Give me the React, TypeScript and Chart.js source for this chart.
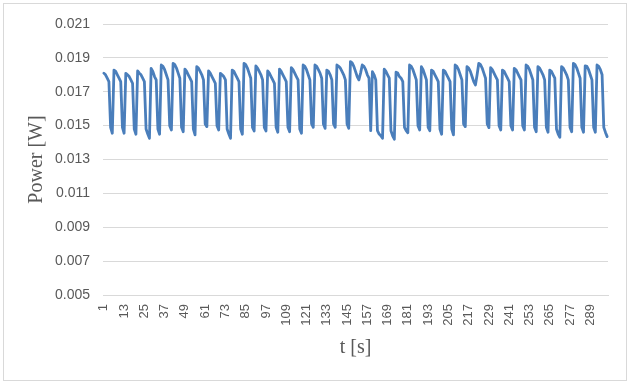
import React, { useEffect, useRef } from "react";
import { Chart, registerables } from "chart.js";

Chart.register(...registerables);

// Categories: t [s] = 1 … 299
const categories: string[] = Array.from({ length: 299 }, (_, i) => String(i + 1));

// Tick labels shown on the category axis
const xTickLabels = ["1", "13", "25", "37", "49", "61", "73", "85", "97", "109", "121", "133", "145", "157", "169", "181", "193", "205", "217", "229", "241", "253", "265", "277", "289"];

// Value axis
const yMin = 0.005;
const yMax = 0.021;
const yStep = 0.002;

// Power [W]
const power = [
  0.0181, 0.0180, 0.0178, 0.0176, 0.0149, 0.01455,
  0.01828, 0.0182, 0.0180, 0.0178, 0.0176, 0.0149, 0.01455,
  0.01809, 0.0180, 0.0179, 0.0177, 0.0175, 0.0148, 0.01449,
  0.01823, 0.0181, 0.0180, 0.0178, 0.0176, 0.0148, 0.0145, 0.01425,
  0.01838, 0.0182, 0.0179, 0.0177, 0.0148, 0.01449,
  0.01858, 0.0185, 0.0183, 0.0180, 0.0177, 0.0150, 0.01474,
  0.01868, 0.0186, 0.0184, 0.0181, 0.0178, 0.0149, 0.01464,
  0.01834, 0.0182, 0.0180, 0.0178, 0.0176, 0.0148, 0.01445,
  0.01848, 0.0184, 0.0182, 0.0180, 0.0177, 0.0151, 0.01494,
  0.01823, 0.0181, 0.0179, 0.0177, 0.0175, 0.0150, 0.01474,
  0.01809, 0.0180, 0.0179, 0.0177, 0.0148, 0.0145, 0.01425,
  0.01828, 0.0182, 0.0180, 0.0178, 0.0176, 0.0148, 0.01449,
  0.01868, 0.0186, 0.0184, 0.0181, 0.0178, 0.0149, 0.01468,
  0.01852, 0.0184, 0.0182, 0.0180, 0.0177, 0.0149, 0.01468,
  0.01823, 0.0181, 0.0179, 0.0177, 0.0175, 0.0149, 0.01461,
  0.01834, 0.0182, 0.0180, 0.0178, 0.0176, 0.0149, 0.01464,
  0.01842, 0.0183, 0.0181, 0.0179, 0.0177, 0.0148, 0.01455,
  0.01858, 0.0185, 0.0183, 0.0180, 0.0177, 0.0151, 0.0149,
  0.01858, 0.0185, 0.0183, 0.0181, 0.0178, 0.0151, 0.01484,
  0.01828, 0.0182, 0.0180, 0.0177, 0.0151, 0.0149,
  0.01858, 0.0185, 0.0184, 0.0182, 0.0180, 0.0177, 0.0151, 0.01484,
  0.01878, 0.0187, 0.0185, 0.0182, 0.0179, 0.0177, 0.0181,
  0.01858, 0.0185, 0.0183, 0.0180, 0.0178, 0.0147,
  0.01818, 0.0180, 0.0177, 0.0147, 0.0145, 0.0144, 0.01425,
  0.01833, 0.0182, 0.0180, 0.0178, 0.0147, 0.0144, 0.0142,
  0.01815, 0.0181, 0.0179, 0.0178, 0.0176, 0.0149, 0.0147, 0.01458,
  0.01858, 0.0185, 0.0183, 0.0180, 0.0177, 0.0150, 0.01474,
  0.01848, 0.0183, 0.0180, 0.0177, 0.0149, 0.0147,
  0.01828, 0.0182, 0.0180, 0.0178, 0.0176, 0.0148, 0.01449,
  0.01828, 0.0182, 0.0180, 0.0178, 0.0176, 0.0148, 0.01445,
  0.01858, 0.0185, 0.0183, 0.0180, 0.0177, 0.0151, 0.01494,
  0.01848, 0.0184, 0.0182, 0.0179, 0.0176, 0.0174, 0.0180,
  0.01868, 0.0186, 0.0184, 0.0181, 0.0178, 0.0151, 0.01488,
  0.01842, 0.0183, 0.0181, 0.0179, 0.0177, 0.0150, 0.01474,
  0.01828, 0.0182, 0.0180, 0.0178, 0.0176, 0.0150, 0.01474,
  0.01838, 0.0183, 0.0181, 0.0179, 0.0177, 0.0150, 0.01474,
  0.01858, 0.0185, 0.0183, 0.0180, 0.0177, 0.0149, 0.01464,
  0.01848, 0.0184, 0.0182, 0.0180, 0.0177, 0.0149, 0.01461,
  0.01828, 0.0182, 0.0180, 0.0178, 0.0148, 0.0145, 0.01431,
  0.01848, 0.0184, 0.0182, 0.0180, 0.0177, 0.0149, 0.01464,
  0.01868, 0.0186, 0.0184, 0.0181, 0.0178, 0.0149, 0.01461,
  0.01853, 0.0185, 0.0183, 0.0180, 0.0177, 0.0149, 0.01461,
  0.01858, 0.0185, 0.0183, 0.0180, 0.0149, 0.0146, 0.01435,
];

const W = 630;
const H = 385;

const frame = {
  id: "frame",
  beforeDraw(chart: any) {
    const ctx = chart.ctx;
    ctx.save();
    ctx.fillStyle = "#ffffff";
    ctx.fillRect(0, 0, W, H);
    ctx.strokeStyle = "#d9d9d9";
    ctx.lineWidth = 1;
    ctx.strokeRect(3.5, 3.5, 623, 377);
    ctx.restore();
  },
};

export default function App() {
  const ref = useRef<HTMLCanvasElement | null>(null);

  useEffect(() => {
    if (!ref.current) return;
    const chart = new Chart(ref.current, {
      type: "line",
      data: {
        labels: categories,
        datasets: [
          {
            label: "Power",
            data: power,
            borderColor: "#4a7ebb",
            borderWidth: 2.8,
            pointRadius: 0,
            pointHoverRadius: 0,
            tension: 0,
            fill: false,
            borderJoinStyle: "round",
            borderCapStyle: "round",
          },
        ],
      },
      options: {
        responsive: false,
        animation: false,
        devicePixelRatio: 1,
        layout: { padding: { left: 0, right: 22, top: 24, bottom: 0 } },
        plugins: {
          legend: { display: false },
          tooltip: { enabled: false },
        },
        scales: {
          x: {
            type: "category",
            offset: true,
            grid: { display: false, drawTicks: false },
            border: { display: true, color: "#d9d9d9" },
            ticks: {
              autoSkip: false,
              minRotation: 90,
              maxRotation: 90,
              padding: 9,
              color: "#595959",
              font: { family: "Liberation Sans", size: 13 },
              callback: (_v: any, idx: number) => {
                const l = categories[idx];
                return xTickLabels.includes(l) ? l : null;
              },
            },
            title: {
              display: true,
              text: "t [s]",
              color: "#595959",
              font: { family: "Liberation Serif", size: 20 },
              padding: { top: 0, bottom: 25 },
            },
            afterFit: (s: any) => {
              s.height = 90;
            },
          },
          y: {
            min: yMin,
            max: yMax,
            grid: { color: "#d9d9d9", drawTicks: false },
            border: { display: false },
            ticks: {
              stepSize: yStep,
              padding: 13,
              color: "#595959",
              font: { family: "Liberation Sans", size: 14 },
              callback: (v: any) => Number(v).toFixed(3),
            },
            title: {
              display: true,
              text: "Power [W]",
              color: "#595959",
              font: { family: "Liberation Serif", size: 20 },
              padding: { top: 25, bottom: 0 },
            },
            afterFit: (s: any) => {
              s.width = 103;
            },
          },
        },
      },
      plugins: [frame],
    });
    return () => chart.destroy();
  }, []);

  return (
    <div style={{ position: "absolute", left: 0, top: 0, width: W, height: H }}>
      <canvas ref={ref} width={W} height={H} style={{ display: "block", width: W, height: H }} />
    </div>
  );
}
